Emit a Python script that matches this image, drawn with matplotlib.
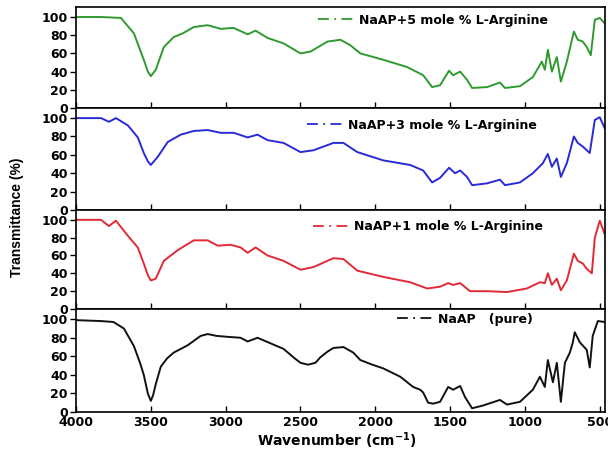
import numpy as np
import matplotlib
matplotlib.use("Agg")
import matplotlib.pyplot as plt

plt.rcParams['font.family'] = ['DejaVu Sans']
plt.rcParams['font.weight'] = 'bold'

# --- data (wavenumber cm-1, transmittance %) ---
wn_pure = [4000, 3833, 3750, 3680, 3613, 3570, 3547, 3520, 3500, 3485, 3467, 3433, 3390, 3347, 3253,
           3167, 3120, 3060, 2987, 2900, 2853, 2787, 2700, 2613, 2540, 2500, 2450, 2400, 2367, 2320,
           2280, 2213, 2147, 2100, 2020, 1947, 1833, 1747, 1700, 1680, 1647, 1613, 1567,
           1513, 1480, 1433, 1400, 1353, 1280, 1167, 1120, 1033, 947, 900, 867, 847, 813, 787, 760,
           733, 700, 680, 667, 633, 587, 567, 547, 513, 467]
t_pure = [99, 98, 97, 90, 71, 52, 40, 20, 12, 18, 30, 49, 58, 64, 72,
          82, 84, 82, 81, 80, 76, 80, 74, 68, 58, 53, 51, 53, 59, 65,
          69, 70, 64, 56, 51, 47, 38, 27, 24, 21, 10, 9, 11,
          27, 24, 28, 16, 4, 7, 13, 8, 11, 24, 38, 27, 56, 32, 53, 11,
          53, 64, 75, 86, 75, 67, 48, 82, 98, 97]

wn_1 = [4000, 3833, 3780, 3733, 3653, 3587, 3547, 3520, 3500, 3467, 3413, 3320, 3213, 3120, 3053, 2967,
        2900, 2853, 2800, 2720, 2613, 2500, 2413, 2280, 2213, 2120, 1947, 1767, 1653, 1567, 1513, 1480,
        1433, 1367, 1253, 1120, 987, 900, 867, 847, 820, 787, 760, 720, 673, 647, 613, 587,
        553, 533, 500, 467]
t_1 = [100, 100, 93, 99, 82, 69, 51, 38, 32, 34, 54, 66, 77, 77, 71, 72,
       69, 63, 69, 60, 54, 44, 47, 57, 56, 43, 36, 30, 23, 25, 29, 27,
       29, 20, 20, 19, 23, 30, 29, 40, 27, 34, 21, 32, 62, 54, 51, 45,
       40, 80, 99, 84]

wn_3 = [4000, 3833, 3780, 3733, 3653, 3587, 3547, 3520, 3500, 3453, 3387, 3300, 3213, 3120, 3033, 2947,
        2853, 2787, 2720, 2613, 2500, 2413, 2280, 2213, 2120, 1947, 1767, 1680, 1620, 1567, 1507,
        1467, 1433, 1387, 1353, 1253, 1167, 1133, 1033, 947, 880, 847, 820, 787, 760, 720,
        673, 647, 613, 567, 533, 500, 467]
t_3 = [100, 100, 96, 100, 92, 79, 62, 53, 49, 58, 74, 82, 86, 87, 84, 84,
       79, 82, 76, 73, 63, 65, 73, 73, 63, 54, 49, 43, 30, 35, 46,
       40, 43, 36, 27, 29, 33, 27, 30, 40, 51, 61, 47, 56, 36, 51,
       80, 73, 69, 62, 98, 101, 89]

wn_5 = [4000, 3833, 3700, 3613, 3547, 3520, 3500, 3467, 3413, 3347, 3287, 3213, 3120, 3033, 2947, 2853,
        2800, 2720, 2613, 2500, 2433, 2320, 2233, 2167, 2100, 1947, 1787, 1680, 1620, 1567, 1507,
        1480, 1433, 1387, 1353, 1253, 1167, 1133, 1033, 947, 887, 867, 847, 820, 787, 760,
        720, 673, 647, 613, 587, 560, 533, 500, 467]
t_5 = [100, 100, 99, 82, 53, 40, 35, 42, 67, 78, 82, 89, 91, 87, 88, 81,
       85, 77, 71, 60, 62, 73, 75, 69, 60, 53, 45, 36, 23, 25, 41,
       36, 40, 31, 22, 23, 28, 22, 24, 34, 51, 42, 64, 40, 56, 29,
       51, 84, 75, 73, 67, 58, 97, 99, 93]

labels = ["NaAP+5 mole % L-Arginine", "NaAP+3 mole % L-Arginine",
          "NaAP+1 mole % L-Arginine", "NaAP   (pure)"]
colors = ["#2f9a2f", "#2b2bd6", "#e02a35", "#111111"]
series = [(wn_5, t_5), (wn_3, t_3), (wn_1, t_1), (wn_pure, t_pure)]
xticks = [4000, 3500, 3000, 2500, 2000, 1500, 1000, 500]
yticks = [0, 20, 40, 60, 80, 100]

W, H = 608, 457
fig = plt.figure(figsize=(W / 100, H / 100), dpi=100)

left_px, right_px = 76, 605
edges = [7, 108, 210, 309, 412]
leg_pos = [(0.457, 0.87), (0.437, 0.83), (0.448, 0.83), (0.607, 0.90)]

for i in range(4):
    top, bot = edges[i], edges[i + 1]
    ax = fig.add_axes([left_px / W, 1 - bot / H, (right_px - left_px) / W, (bot - top) / H])
    wn, t = series[i]
    ax.plot(wn, t, color=colors[i], lw=1.4)
    ax.set_xlim(4000, 465)
    ax.set_ylim(0, 111)
    ax.set_yticks(yticks)
    ax.set_xticks(xticks)
    ax.tick_params(axis='x', direction='in', length=4, width=1, top=False)
    ax.tick_params(axis='y', direction='out', length=4, width=1, right=False, labelsize=9, pad=2)
    for lab in ax.get_yticklabels():
        lab.set_fontweight('bold')
    if i < 3:
        ax.tick_params(axis='x', labelbottom=False)
    else:
        ax.tick_params(axis='x', labelsize=9, pad=3)
        for lab in ax.get_xticklabels():
            lab.set_fontweight('bold')
    for sp in ax.spines.values():
        sp.set_linewidth(1.2)
    ax.legend(handles=[plt.Line2D([], [], color=colors[i], lw=1.3, ls=(0, (6, 3, 1, 3)))],
              labels=[labels[i]], loc='center left', bbox_to_anchor=leg_pos[i],
              frameon=False, borderpad=0, borderaxespad=0, handlelength=3.0,
              handletextpad=0.3, prop={'weight': 'bold', 'size': 9})

fig.text(0.028, 0.525, "Transmittance (%)", rotation=90, ha='center', va='center',
         fontsize=10, fontweight='bold', family='Liberation Sans')
fig.text(0.555, 0.035, "Wavenumber (cm$^{\\mathbf{-1}}$)", ha='center', va='center',
         fontsize=10, fontweight='bold')

fig.savefig("out.png", dpi=100)
